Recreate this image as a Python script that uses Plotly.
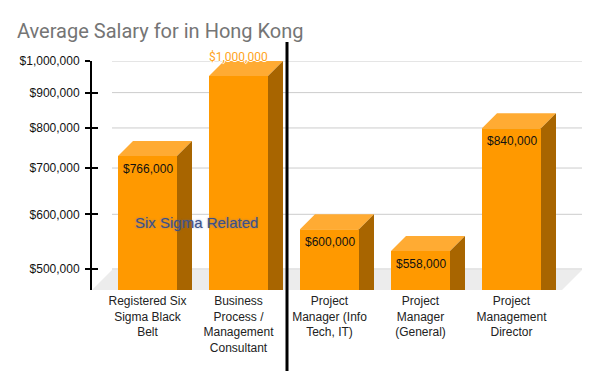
import math
import plotly.graph_objects as go

# ---------------- data ----------------
title_text = "Average Salary for in Hong Kong"
categories = [
    "Registered Six<br>Sigma Black<br>Belt",
    "Business<br>Process /<br>Management<br>Consultant",
    "Project<br>Manager (Info<br>Tech, IT)",
    "Project<br>Manager<br>(General)",
    "Project<br>Management<br>Director",
]
salaries = [766000, 1000000, 600000, 558000, 840000]
value_labels = ["$766,000", "$1,000,000", "$600,000", "$558,000", "$840,000"]
y_tick_values = [500000, 600000, 700000, 800000, 900000, 1000000]
y_tick_labels = ["$500,000", "$600,000", "$700,000", "$800,000", "$900,000", "$1,000,000"]
group_label = "Six Sigma Related"

# ---------------- geometry / style ----------------
OFF = 8                      # page body margin of the browser
W, H = 600, 371
L, T = 92 - OFF, 61 - OFF
plot_w, plot_h = 490, 229
R = W - L - plot_w
B = H - T - plot_h
px_per_decade = 691.0
px_per_cat = 91.0
y_log_max = math.log10(1000000)
y_log_min = y_log_max - plot_h / px_per_decade
x_min = -55.5 / px_per_cat
x_max = x_min + plot_w / px_per_cat

bar_half = 29.5 / px_per_cat
bar_depth_x = 15 / px_per_cat
bar_depth_f = 10 ** (15 / px_per_decade)
floor_depth_x = 20 / px_per_cat
floor_depth_f = 10 ** (20 / px_per_decade)
y_floor = 10 ** y_log_min

FRONT = "#ff9900"
TOP = "#ffab33"
SIDE = "#a86500"

fig = go.Figure()

# floor
fig.add_trace(go.Scatter(
    x=[x_min, x_min + floor_depth_x, x_max, x_max - floor_depth_x, x_min],
    y=[y_floor, y_floor * floor_depth_f, y_floor * floor_depth_f, y_floor, y_floor],
    fill="toself", fillcolor="#ececec", mode="lines", line=dict(width=0),
    hoverinfo="skip", showlegend=False))

# gridlines on back wall
for t in y_tick_values:
    fig.add_trace(go.Scatter(
        x=[x_min + floor_depth_x, x_max], y=[t, t], mode="lines",
        line=dict(color="#cccccc", width=1), hoverinfo="skip", showlegend=False))

# 3D bars
for i, v in enumerate(salaries):
    xl, xr = i - bar_half, i + bar_half
    front_top = v / bar_depth_f
    fig.add_trace(go.Scatter(
        x=[xl, xr, xr, xl, xl], y=[y_floor, y_floor, front_top, front_top, y_floor],
        fill="toself", fillcolor=FRONT, mode="lines", line=dict(width=0),
        hoverinfo="skip", showlegend=False))
    fig.add_trace(go.Scatter(
        x=[xl, xl + bar_depth_x, xr + bar_depth_x, xr, xl],
        y=[front_top, v, v, front_top, front_top],
        fill="toself", fillcolor=TOP, mode="lines", line=dict(width=0),
        hoverinfo="skip", showlegend=False))
    fig.add_trace(go.Scatter(
        x=[xr, xr + bar_depth_x, xr + bar_depth_x, xr, xr],
        y=[front_top, v, y_floor, y_floor, front_top],
        fill="toself", fillcolor=SIDE, mode="lines", line=dict(width=0),
        hoverinfo="skip", showlegend=False))

annotations = []
vmax = max(salaries)
for i, (v, lab) in enumerate(zip(salaries, value_labels)):
    if v == vmax:
        annotations.append(dict(
            x=i, y=math.log10(v), xref="x", yref="y", text=lab, showarrow=False,
            yanchor="middle", yshift=4,
            font=dict(family="Roboto, Arial", size=12, color="#ffa31a",
                      shadow="1px 0 0 #fff, -1px 0 0 #fff, 0 1px 0 #fff, 0 -1px 0 #fff")))
    else:
        annotations.append(dict(
            x=i, y=math.log10(v / bar_depth_f), xref="x", yref="y", text=lab,
            showarrow=False, yanchor="middle", yshift=-13,
            font=dict(family="Liberation Sans, Arial", size=12, color="#111111")))

annotations.append(dict(
    x=(196 - 92) / plot_w, y=(290 - 222) / plot_h, xref="paper", yref="paper",
    text=group_label, showarrow=False, xanchor="center", yanchor="middle",
    font=dict(family="Liberation Sans, Arial", size=15, color="#3c5088",
              shadow="0px 0px 2px rgba(90,110,170,0.7)")))

fig.update_layout(
    width=W, height=H,
    margin=dict(l=L, r=R, t=T, b=B, pad=0, autoexpand=False),
    paper_bgcolor="white", plot_bgcolor="white",
    title=dict(text=title_text, x=(17 - OFF) / W, xanchor="left", xref="container",
               y=1 - (31 - OFF) / H, yanchor="middle", yref="container",
               font=dict(family="Roboto, Arial", size=20, color="#757575")),
    xaxis=dict(range=[x_min, x_max], tickmode="array",
               tickvals=list(range(len(categories))), ticktext=categories,
               showgrid=False, zeroline=False, showline=False, ticks="",
               ticklabelstandoff=2, automargin=False,
               tickfont=dict(family="Liberation Sans, Arial", size=12, color="#222222"),
               fixedrange=True),
    yaxis=dict(type="log", range=[y_log_min, y_log_max], tickmode="array",
               tickvals=y_tick_values, ticktext=y_tick_labels, automargin=False,
               showgrid=False, zeroline=False, showline=True, linecolor="#000000",
               linewidth=2, ticks="outside", ticklen=5, tickcolor="#000000", tickwidth=2,
               ticklabelstandoff=3,
               tickfont=dict(family="Liberation Sans, Arial", size=12, color="#111111")),
    yaxis2=dict(type="log", range=[y_log_min, y_log_max], overlaying="y", side="left",
                tickmode="array", tickvals=y_tick_values, showticklabels=False,
                showgrid=False, zeroline=False, showline=False, automargin=False,
                ticks="inside", ticklen=6, tickcolor="#000000", tickwidth=2),
    annotations=annotations,
    shapes=[dict(type="line", xref="paper", yref="paper",
                 x0=(287 - 92) / plot_w, x1=(287 - 92) / plot_w,
                 y0=(290 - 380) / plot_h, y1=(290 - 42) / plot_h,
                 line=dict(color="#000000", width=3))],
    showlegend=False,
)
fig.add_trace(go.Scatter(x=[None], y=[None], yaxis="y2", showlegend=False, hoverinfo="skip"))

fig.write_html("out.html")
